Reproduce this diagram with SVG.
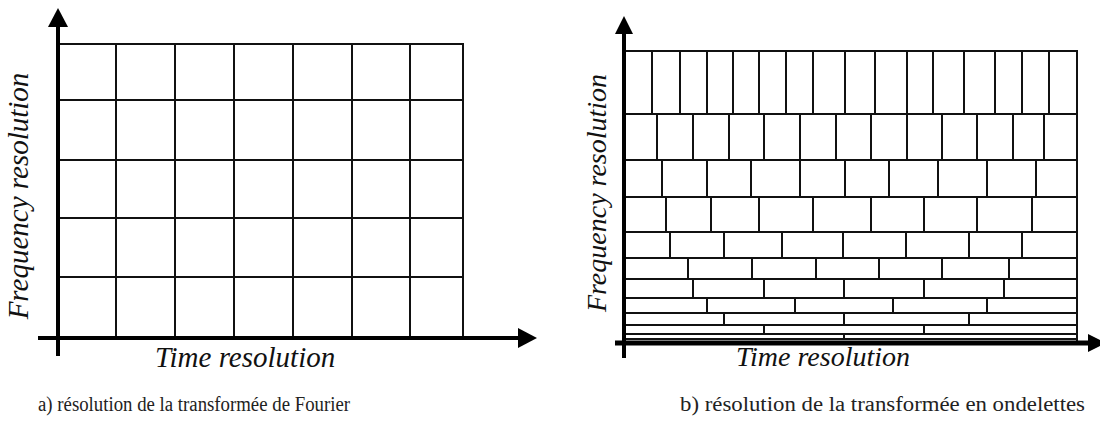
<svg xmlns="http://www.w3.org/2000/svg" width="1100" height="433" viewBox="0 0 1100 433">
<style>
.g{stroke:#111;stroke-width:2;fill:none;stroke-linecap:square}
.ax{stroke:#000;stroke-width:4;fill:none}
.ah{fill:#000}
.lbl{font-family:"Liberation Serif",serif;font-style:italic;fill:#111}
.cap{font-family:"Liberation Serif",serif;font-size:20px;fill:#222}
</style>
<rect width="1100" height="433" fill="#fff"/>
<g id="fourier-grid">
<path class="g" d="M58 44H463V338M58 100H463M58 160H463M58 218H463M58 277H463M116 44V338M175 44V338M234 44V338M293 44V338M352 44V338M410 44V338"/>
</g>
<g id="wavelet-grid">
<path class="g" d="M624 51H1077V343M624 114H1077M624 160H1077M624 197H1077M624 232H1077M624 258H1077M624 279H1077M624 298H1077M624 313H1077M624 325H1077M624 334H1077M624 339H1077"/>
<path class="g" d="M652 51V114M680 51V114M707 51V114M733 51V114M759 51V114M786 51V114M813 51V114M845 51V114M875 51V114M907 51V114M933 51V114M964 51V114M995 51V114M1022 51V114M1049 51V114"/>
<path class="g" d="M657 114V160M693 114V160M729 114V160M764 114V160M800 114V160M836 114V160M871 114V160M907 114V160M942 114V160M977 114V160M1013 114V160M1044 114V160"/>
<path class="g" d="M662 160V197M707 160V197M751 160V197M800 160V197M845 160V197M889 160V197M938 160V197M987 160V197M1036 160V197"/>
<path class="g" d="M666 197V232M711 197V232M759 197V232M813 197V232M871 197V232M924 197V232M977 197V232M1032 197V232"/>
<path class="g" d="M670 232V258M724 232V258M782 232V258M843 232V258M906 232V258M969 232V258M1022 232V258"/>
<path class="g" d="M688 258V279M752 258V279M816 258V279M879 258V279M942 258V279M1009 258V279"/>
<path class="g" d="M693 279V298M764 279V298M844 279V298M924 279V298M1004 279V298"/>
<path class="g" d="M707 298V313M795 298V313M893 298V313M987 298V313"/>
<path class="g" d="M724 313V325M844 313V325M969 313V325"/>
<path class="g" d="M764 325V334M924 325V334"/>
<path class="g" d="M844 334V339"/>
</g>
<g id="connectors">
<line class="ax" x1="58" y1="356" x2="58" y2="26"/>
<polygon class="ah" points="48,27 68,27 58,8"/>
<line class="ax" x1="38" y1="338" x2="519" y2="338"/>
<polygon class="ah" points="518,328 518,348 537,338"/>
<line class="ax" x1="624" y1="358" x2="624" y2="33"/>
<polygon class="ah" points="615,34 633,34 624,16"/>
<line class="ax" x1="615" y1="343" x2="1089" y2="343" style="stroke-width:5"/>
<polygon class="ah" points="1088,334 1088,352 1106,343"/>
</g>
<g id="labels">
<text class="lbl" font-size="29" text-anchor="middle" transform="translate(28,196) rotate(-90)">Frequency resolution</text>
<text class="lbl" font-size="29" x="155" y="367">Time resolution</text>
<text class="lbl" font-size="28" text-anchor="middle" transform="translate(606,193) rotate(-90)">Frequency resolution</text>
<text class="lbl" font-size="28" x="736" y="366">Time resolution</text>
<text class="cap" x="38" y="411" textLength="312" lengthAdjust="spacingAndGlyphs">a) résolution de la transformée de Fourier</text>
<text class="cap" x="680" y="411" textLength="405" lengthAdjust="spacingAndGlyphs">b) résolution de la transformée en ondelettes</text>
</g>
</svg>
